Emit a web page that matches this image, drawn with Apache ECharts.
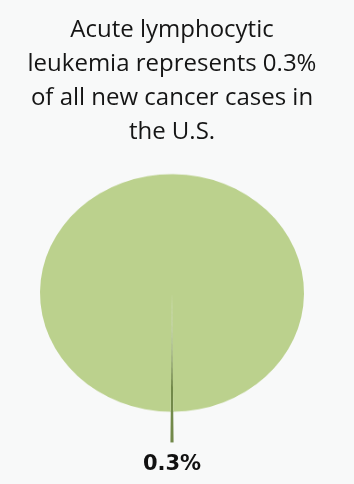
<!DOCTYPE html>
<html lang="en">
<head>
    <meta charset="UTF-8">
    <title>ALL share</title>
    <script src="https://cdn.jsdelivr.net/npm/echarts@6/dist/echarts.min.js"></script>
</head>
<style>
    body{
        margin: 0;
        padding: 0;
        background: #f8f9f9;
    }
    #main{position: absolute;left: 0;top: 0;width: 354px;height: 484px;}
    /* pie is drawn a bit flattened, like in the picture */
    #pie{position: absolute;left: 0;top: 0;width: 354px;height: 538px;transform: scaleY(0.9);transform-origin: 0 0;}
</style>
<body>
<div id="main"></div>
<div id="pie"></div>
<script>
    var titleLines = ['Acute lymphocytic', 'leukemia represents 0.3%', 'of all new cancer cases in', 'the U.S.'];
    var sliceNames = ['Acute lymphocytic leukemia', 'Other cancers'];
    var sliceValues = [0.3, 99.7];
    var sliceColors = ['#72894a', '#bbd18d'];

    // title + value label (not flattened)
    var main = echarts.init(document.getElementById('main'));
    main.setOption({
        backgroundColor: '#f8f9f9',
        animation: false,
        title: [{
            text: titleLines.join('\n'),
            left: 172,
            top: 13,
            padding: 0,
            textAlign: 'center',
            textStyle: {
                fontFamily: 'Open Sans',
                fontSize: 24,
                fontWeight: 'normal',
                lineHeight: 34,
                color: '#151515'
            }
        }, {
            text: sliceValues[0] + '%',
            left: 172,
            top: 454,
            padding: 0,
            textAlign: 'center',
            textStyle: {
                fontFamily: 'DejaVu Sans',
                fontSize: 21,
                fontWeight: 'bold',
                color: '#111'
            }
        }]
    });

    var items = [];
    var tail = [];
    for (var i = 0; i < sliceValues.length; i++) {
        items.push({
            name: sliceNames[i],
            value: sliceValues[i],
            itemStyle: {color: sliceColors[i]}
        });
        tail.push({
            name: sliceNames[i],
            value: sliceValues[i],
            itemStyle: {color: i == 0 ? sliceColors[0] : 'rgba(0,0,0,0)'}
        });
    }

    var pie = echarts.init(document.getElementById('pie'));
    pie.setOption({
        animation: false,
        series: [{
            type: 'pie',
            center: [172, 325.5],
            radius: [0, 132],
            startAngle: 270.54,
            silent: true,
            label: {show: false},
            labelLine: {show: false},
            itemStyle: {borderWidth: 0},
            data: items
        }, {
            // little slice runs on past the edge
            type: 'pie',
            center: [172, 325.5],
            radius: [131, 166],
            startAngle: 270.54,
            silent: true,
            label: {show: false},
            labelLine: {show: false},
            itemStyle: {borderWidth: 0},
            data: tail
        }]
    });
</script>
</body>
</html>
